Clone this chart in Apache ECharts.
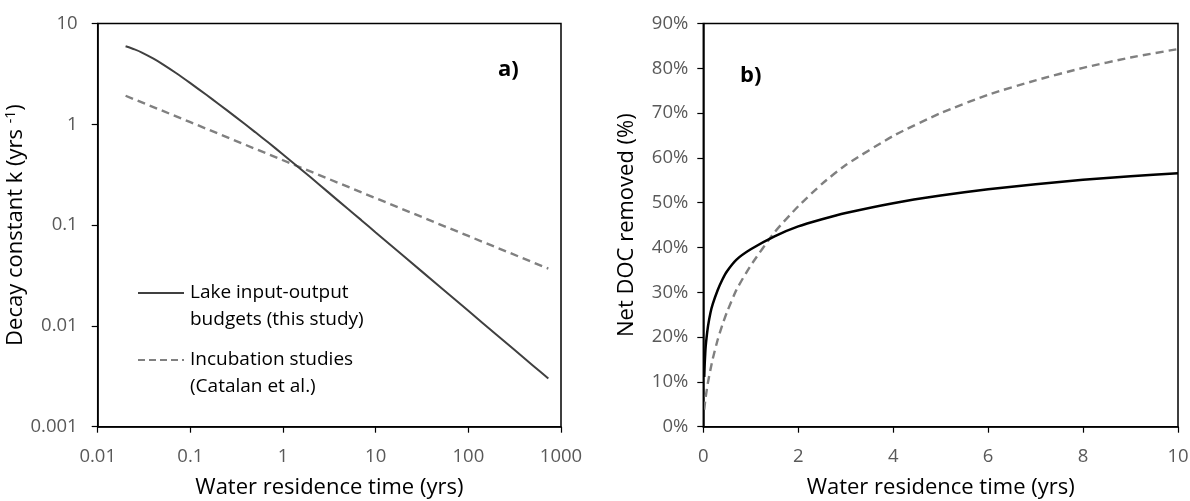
<!DOCTYPE html>
<html><head><meta charset="utf-8">
<script src="https://cdn.jsdelivr.net/npm/echarts@6/dist/echarts.min.js"></script>
<style>html,body{margin:0;padding:0;background:#fff}#c{width:1190px;height:501px}</style>
</head><body><div id="c"></div>
<script>
// Panel a) decay constant k vs water residence time (log-log)
const aLakeX = [0.02, 0.025, 0.03, 0.04, 0.05, 0.07, 0.1, 0.15, 0.2, 0.3, 0.5, 0.7, 1, 1.5, 2, 3, 5, 7, 10, 20, 50, 100, 200, 500, 730];
const aLakeK = [5.94, 5.53, 5.15, 4.48, 3.96, 3.23, 2.56, 1.95, 1.60, 1.206, 0.837, 0.655, 0.502, 0.369, 0.296, 0.216, 0.145, 0.112, 0.0846, 0.0493, 0.0242, 0.0141, 0.00822, 0.00403, 0.003];
const aIncX = [0.02, 0.1, 1, 10, 100, 730];
const aIncK = [1.92, 1.05, 0.44, 0.185, 0.078, 0.037];
// Panel b) net DOC removed (%) vs water residence time
const bX = [0.02, 0.03, 0.04, 0.05, 0.07, 0.1, 0.15, 0.2, 0.3, 0.4, 0.5, 0.7, 1, 1.5, 2, 2.5, 3, 4, 5, 6, 7, 8, 9, 10];
const bLake = [11.1, 14.2, 16.2, 17.9, 20, 22.5, 25.4, 27.4, 30.4, 32.8, 34.7, 37.3, 39.6, 42.5, 44.7, 46.3, 47.7, 49.9, 51.6, 53, 54.1, 55.1, 55.9, 56.6];
const bInc = [3.8, 4.8, 5.7, 6.6, 8.0, 10, 12.7, 15.2, 19.3, 22.7, 25.6, 30.6, 36, 43.4, 49.2, 54.2, 58.4, 64.9, 70, 74.1, 77.3, 80.1, 82.4, 84.3];
// Axis tick values
const aXTicks = [0.01, 0.1, 1, 10, 100, 1000];
const aYTicks = [0.001, 0.01, 0.1, 1, 10];
const bXTicks = [0, 2, 4, 6, 8, 10];
const bYTicks = [0, 10, 20, 30, 40, 50, 60, 70, 80, 90];
const legendNames = ['Lake input-output\nbudgets (this study)', 'Incubation studies\n(Catalan et al.)'];

const FONT = '"Open Sans", Lato, sans-serif';
const W = 1190, H = 501;
const G = [
  {left: 97.7, right: 629, top: 23.5, bottom: 74.3, containLabel: false, outerBoundsMode: 'none'},
  {left: 703.3, right: 12, top: 23.5, bottom: 74.3, containLabel: false, outerBoundsMode: 'none'}
];
const zip = (xs, ys) => xs.map((x, i) => [x, ys[i]]);
const fmtNum = v => String(parseFloat(Number(v).toPrecision(6)));

const axisCommon = {
  axisLine: {show: true, onZero: false, lineStyle: {color: '#000', width: 1.5}},
  axisTick: {show: true, inside: false, length: 6, lineStyle: {color: '#000', width: 1.2}},
  splitLine: {show: false},
  minorTick: {show: false},
  nameLocation: 'middle',
  nameTextStyle: {color: '#000', fontSize: 22, fontFamily: FONT}
};
const labelCommon = {color: '#595959', fontSize: 18.5, fontFamily: FONT};
const frame = g => ({type: 'rect', z: 10, silent: true,
  shape: {x: g.left, y: g.top, width: W - g.left - g.right, height: H - g.top - g.bottom},
  style: {fill: 'none', stroke: '#000', lineWidth: 1.5}});

const option = {
  animation: false,
  backgroundColor: '#fff',
  grid: G,
  xAxis: [
    Object.assign({}, axisCommon, {
      gridIndex: 0, type: 'log', logBase: 10, min: aXTicks[0], max: aXTicks[aXTicks.length - 1],
      name: 'Water residence time (yrs)', nameGap: 50,
      axisLabel: Object.assign({}, labelCommon, {margin: 21, formatter: fmtNum})
    }),
    Object.assign({}, axisCommon, {
      gridIndex: 1, type: 'value', min: bXTicks[0], max: bXTicks[bXTicks.length - 1], interval: 2,
      name: 'Water residence time (yrs)', nameGap: 50,
      axisLabel: Object.assign({}, labelCommon, {margin: 21})
    })
  ],
  yAxis: [
    Object.assign({}, axisCommon, {
      gridIndex: 0, type: 'log', logBase: 10, min: aYTicks[0], max: aYTicks[aYTicks.length - 1],
      name: '{a|Decay constant k (yrs }{s|-1}{a|)}', nameGap: 63,
      nameTextStyle: {color: '#000', fontSize: 22, fontFamily: FONT,
        rich: {a: {color: '#000', fontSize: 22, fontFamily: FONT},
               s: {color: '#000', fontSize: 14, fontFamily: FONT, verticalAlign: 'top', padding: [0, 0, 10, 0]}}},
      axisLabel: Object.assign({}, labelCommon, {margin: 20, formatter: fmtNum})
    }),
    Object.assign({}, axisCommon, {
      gridIndex: 1, type: 'value', min: bYTicks[0], max: bYTicks[bYTicks.length - 1], interval: 10,
      name: 'Net DOC removed (%)', nameGap: 66,
      axisLabel: Object.assign({}, labelCommon, {margin: 15, formatter: '{value}%'})
    })
  ],
  series: [
    {name: legendNames[0], type: 'line', xAxisIndex: 0, yAxisIndex: 0, data: zip(aLakeX, aLakeK),
     showSymbol: false, smooth: 0.2, lineStyle: {color: '#404040', width: 2}, z: 3},
    {name: legendNames[1], type: 'line', xAxisIndex: 0, yAxisIndex: 0, data: zip(aIncX, aIncK),
     showSymbol: false, lineStyle: {color: '#808080', width: 2.4, type: [8, 5]}, z: 2},
    {name: legendNames[0], type: 'line', xAxisIndex: 1, yAxisIndex: 1, data: zip(bX, bLake),
     showSymbol: false, smooth: 0.2, lineStyle: {color: '#000', width: 2.5}, z: 3},
    {name: legendNames[1], type: 'line', xAxisIndex: 1, yAxisIndex: 1, data: zip(bX, bInc),
     showSymbol: false, smooth: 0.2, lineStyle: {color: '#808080', width: 2.4, type: [8, 5]}, z: 2}
  ],
  graphic: [
    frame(G[0]), frame(G[1]),
    {type: 'line', shape: {x1: 138, y1: 293, x2: 184, y2: 293}, style: {stroke: '#404040', lineWidth: 2}},
    {type: 'text', left: 190, top: 279, style: {text: legendNames[0], fill: '#000', font: '19px ' + FONT, lineHeight: 27}},
    {type: 'line', shape: {x1: 138, y1: 360, x2: 184, y2: 360}, style: {stroke: '#808080', lineWidth: 2, lineDash: [7, 4]}},
    {type: 'text', left: 190, top: 346, style: {text: legendNames[1], fill: '#000', font: '19px ' + FONT, lineHeight: 27}},
    {type: 'text', left: 498, top: 59, style: {text: 'a)', fill: '#000', font: 'bold 22px ' + FONT}},
    {type: 'text', left: 740, top: 65, style: {text: 'b)', fill: '#000', font: 'bold 22px ' + FONT}}
  ]
};
const chart = echarts.init(document.getElementById('c'), null, {renderer: 'canvas'});
chart.setOption(option);
</script>
</body></html>
